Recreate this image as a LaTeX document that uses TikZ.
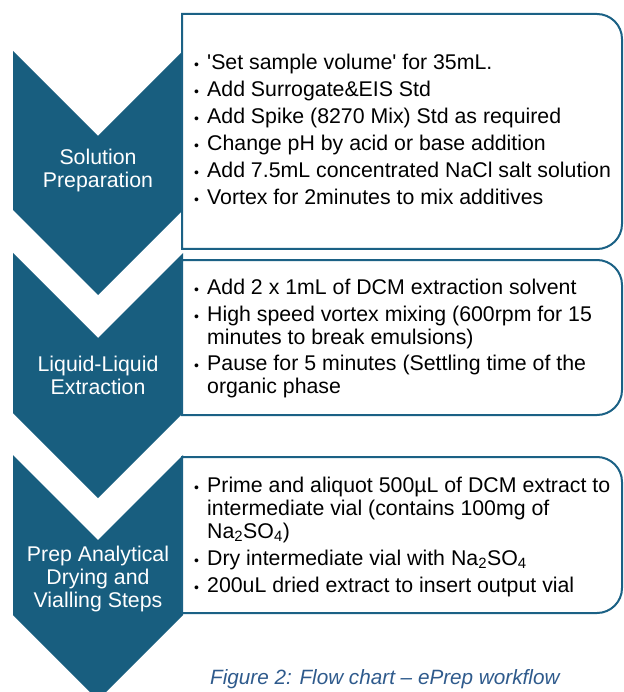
\documentclass[tikz,border=0pt]{standalone}
\usepackage{fontspec}
\setmainfont{Liberation Sans}
\definecolor{chev}{HTML}{185E7F}
\definecolor{boxc}{HTML}{1B6185}
\definecolor{capc}{HTML}{2E5A8C}
\begin{document}
\begin{tikzpicture}[x=1pt,y=-1pt,
  chevron/.style={fill=chev,draw=none},
  stepbox/.style={draw=boxc,line width=2pt,fill=white},
  txt/.style={anchor=base west,inner sep=0pt,font=\fontsize{21.3}{24}\selectfont,text=black},
  bul/.style={anchor=base west,inner sep=0pt,font=\fontsize{14}{14}\selectfont,text=black},
  lab/.style={anchor=base,inner sep=0pt,text=white,font=\fontsize{21.3}{24}\selectfont},
  figcap/.style={anchor=base west,inner sep=0pt,text=capc,font=\fontsize{20.7}{22}\selectfont\itshape}]
\useasboundingbox (0,0) rectangle (623,692);
% chevrons
\path[chevron] (13,51) -- (98,136) -- (183,51) -- (183,210) -- (98,295) -- (13,210) -- cycle;
\path[chevron] (13,253) -- (98,338) -- (183,253) -- (183,413) -- (98,498) -- (13,413) -- cycle;
\path[chevron] (13,455) -- (98,540) -- (183,455) -- (183,615) -- (98,700) -- (13,615) -- cycle;
% boxes
\draw[stepbox] (182,249) -- (182,14) -- (597,14) arc(-90:0:25) -- (622,224) arc(0:90:25) -- cycle;
\draw[stepbox] (182,415) -- (182,260) -- (597,260) arc(-90:0:25) -- (622,390) arc(0:90:25) -- cycle;
\draw[stepbox] (182,613) -- (182,457) -- (597,457) arc(-90:0:25) -- (622,588) arc(0:90:25) -- cycle;
% labels
\node[lab] (l1a) at (98,165) {Solution};
\node[lab] (l1b) at (98,188) {Preparation};
\node[lab] (l2a) at (98,371) {Liquid-Liquid};
\node[lab] (l2b) at (98,394) {Extraction};
\node[lab] (l3a) at (98,561) {Prep Analytical};
\node[lab] (l3b) at (98,584) {Drying and};
\node[lab] (l3c) at (98,607) {Vialling Steps};
% box 1
\foreach \yy/\nm in {70/a,97/b,124/c,151/d,178/e,205/f} {\node[bul] (b1\nm) at (194,\yy) {•};}
\node[txt] (t1a) at (207,70) {\textquotesingle Set sample volume\textquotesingle{} for 35mL.};
\node[txt] (t1b) at (207,97) {Add Surrogate\&EIS Std};
\node[txt] (t1c) at (207,124) {Add Spike (8270 Mix) Std as required};
\node[txt] (t1d) at (207,151) {Change pH by acid or base addition};
\node[txt] (t1e) at (207,178) {Add 7.5mL concentrated NaCl salt solution};
\node[txt] (t1f) at (207,205) {Vortex for 2minutes to mix additives};
% box 2
\foreach \yy/\nm in {294/a,321/b,370/c} {\node[bul] (b2\nm) at (194,\yy) {•};}
\node[txt] (t2a) at (207,294) {Add 2 x 1mL of DCM extraction solvent};
\node[txt] (t2b) at (207,321) {High speed vortex mixing (600rpm for 15};
\node[txt] (t2c) at (207,344) {minutes to break emulsions)};
\node[txt] (t2d) at (207,370) {Pause for 5 minutes (Settling time of the};
\node[txt] (t2e) at (207,393) {organic phase};
% box 3
\foreach \yy/\nm in {492/a,565/b,592/c} {\node[bul] (b3\nm) at (194,\yy) {•};}
\node[txt] (t3a) at (207,492) {Prime and aliquot 500µL of DCM extract to};
\node[txt] (t3b) at (207,515) {intermediate vial (contains 100mg of};
\node[txt] (t3c) at (207,538) {Na\textsubscript{2}SO\textsubscript{4})};
\node[txt] (t3d) at (207,565) {Dry intermediate vial with Na\textsubscript{2}SO\textsubscript{4}};
\node[txt] (t3e) at (207,592) {200uL dried extract to insert output vial};
% caption
\node[figcap] (fc) at (210,684) {Figure 2: Flow chart – ePrep workflow};
\end{tikzpicture}
\end{document}
